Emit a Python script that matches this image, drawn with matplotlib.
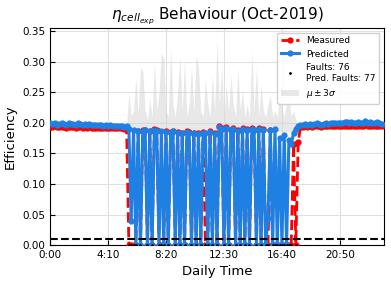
import numpy as np
import matplotlib
matplotlib.use('Agg')
import matplotlib.pyplot as plt

# time of day in minutes, one sample every 10 min
minutes = np.arange(0, 1440, 10)

night_am_pred = [0.199, 0.198, 0.200, 0.197, 0.198, 0.199, 0.198, 0.197, 0.199, 0.198,
                 0.198, 0.197, 0.199, 0.198, 0.197, 0.198, 0.197, 0.198, 0.197, 0.196,
                 0.197, 0.196, 0.197, 0.195, 0.196, 0.195, 0.196, 0.195, 0.194, 0.195,
                 0.194, 0.195, 0.193, 0.194]
night_am_meas = [0.193, 0.193, 0.194, 0.193, 0.193, 0.193, 0.193, 0.192, 0.193, 0.193,
                 0.193, 0.192, 0.193, 0.193, 0.192, 0.193, 0.192, 0.193, 0.192, 0.192,
                 0.192, 0.192, 0.192, 0.191, 0.192, 0.191, 0.192, 0.191, 0.191, 0.191,
                 0.191, 0.191, 0.190, 0.191]

day_pred = [0.190, 0.040, 0.188, 0.000, 0.186, 0.000, 0.187, 0.188, 0.000, 0.186,
            0.000, 0.189, 0.187, 0.000, 0.186, 0.000, 0.185, 0.000, 0.184, 0.186,
            0.000, 0.184, 0.000, 0.183, 0.000, 0.185, 0.184, 0.000, 0.183, 0.000,
            0.182, 0.000, 0.184, 0.183, 0.000, 0.185, 0.000, 0.182, 0.000, 0.193,
            0.190, 0.000, 0.192, 0.000, 0.188, 0.190, 0.000, 0.187, 0.000, 0.190,
            0.000, 0.189, 0.000, 0.190, 0.188, 0.000, 0.190, 0.000, 0.189, 0.000,
            0.045, 0.188, 0.000, 0.190, 0.000, 0.175, 0.000, 0.180, 0.000, 0.172,
            0.165, 0.183, 0.190, 0.195]
day_meas = [0.000, 0.000, 0.000, 0.000, 0.187, 0.000, 0.188, 0.189, 0.000, 0.187,
            0.000, 0.190, 0.188, 0.000, 0.000, 0.000, 0.186, 0.000, 0.185, 0.187,
            0.000, 0.185, 0.000, 0.184, 0.000, 0.186, 0.185, 0.000, 0.184, 0.000,
            0.183, 0.000, 0.185, 0.000, 0.000, 0.186, 0.000, 0.183, 0.000, 0.194,
            0.191, 0.000, 0.193, 0.000, 0.189, 0.191, 0.000, 0.188, 0.000, 0.191,
            0.000, 0.190, 0.000, 0.191, 0.189, 0.000, 0.191, 0.000, 0.190, 0.000,
            0.000, 0.189, 0.000, 0.000, 0.000, 0.000, 0.000, 0.000, 0.000, 0.000,
            0.000, 0.165, 0.000, 0.168]

night_pm_pred = [0.196, 0.197, 0.198, 0.197, 0.198, 0.197, 0.198, 0.199, 0.198, 0.197,
                 0.198, 0.199, 0.198, 0.199, 0.200, 0.199, 0.200, 0.199, 0.200, 0.201,
                 0.202, 0.200, 0.201, 0.199, 0.200, 0.201, 0.200, 0.199, 0.203, 0.200,
                 0.201, 0.199, 0.200, 0.202, 0.199, 0.198]
night_pm_meas = [0.193, 0.193, 0.194, 0.193, 0.194, 0.193, 0.194, 0.194, 0.194, 0.193,
                 0.194, 0.194, 0.194, 0.194, 0.195, 0.194, 0.195, 0.194, 0.195, 0.195,
                 0.195, 0.195, 0.195, 0.194, 0.195, 0.195, 0.195, 0.194, 0.196, 0.195,
                 0.195, 0.194, 0.195, 0.195, 0.194, 0.194]

# mu +/- 3 sigma band
band_upper = [0.201, 0.200, 0.201, 0.200, 0.200, 0.201, 0.200, 0.200, 0.201, 0.200,
              0.200, 0.200, 0.201, 0.200, 0.200, 0.200, 0.200, 0.200, 0.199, 0.199,
              0.199, 0.199, 0.199, 0.198, 0.198, 0.198, 0.198, 0.198, 0.197, 0.197,
              0.197, 0.197, 0.196, 0.197,
              0.250, 0.210, 0.220, 0.275, 0.215, 0.290, 0.285, 0.220, 0.205, 0.240,
              0.210, 0.300, 0.220, 0.250, 0.314, 0.306, 0.220, 0.210, 0.325, 0.230,
              0.210, 0.250, 0.309, 0.220, 0.303, 0.210, 0.230, 0.294, 0.220, 0.311,
              0.290, 0.220, 0.210, 0.273, 0.230, 0.210, 0.278, 0.220, 0.335, 0.230,
              0.294, 0.210, 0.262, 0.220, 0.278, 0.230, 0.210, 0.290, 0.220, 0.252,
              0.210, 0.230, 0.210, 0.317, 0.220, 0.290, 0.210, 0.262, 0.220, 0.210,
              0.230, 0.245, 0.210, 0.220, 0.210, 0.252, 0.220, 0.210, 0.230, 0.240,
              0.210, 0.220, 0.205, 0.200,
              0.199, 0.199, 0.200, 0.200, 0.200, 0.200, 0.201, 0.201, 0.201, 0.200,
              0.201, 0.201, 0.201, 0.202, 0.202, 0.202, 0.202, 0.202, 0.203, 0.203,
              0.204, 0.203, 0.203, 0.202, 0.203, 0.203, 0.203, 0.202, 0.205, 0.203,
              0.203, 0.202, 0.203, 0.204, 0.202, 0.201]
band_lower = [0.190] * 34 + [0.185] * 74 + [0.190] * 36

threshold = 0.01
tick_pos = [0, 250, 500, 750, 1000, 1250]
tick_labels = ['0:00', '4:10', '8:20', '12:30', '16:40', '20:50']
faults_label = 'Faults: 76\nPred. Faults: 77'

measured = np.array(night_am_meas + day_meas + night_pm_meas)
predicted = np.array(night_am_pred + day_pred + night_pm_pred)

fig = plt.figure(figsize=(3.91, 2.83), dpi=100)
ax = fig.add_axes([0.128, 0.134, 0.854, 0.767])

ax.fill_between(minutes, band_lower, band_upper, color='lightgrey', alpha=0.5,
                lw=0, label=r'$\mu\pm3\sigma$', zorder=1)
ax.plot(minutes, measured, '--o', color='#ff0000', lw=2, ms=3.5, label='Measured', zorder=3)
ax.plot(minutes, predicted, '-o', color='#1e80e3', lw=2.2, ms=3.5, label='Predicted', zorder=4)
faults = minutes[measured < threshold]
ax.plot(faults, np.zeros(len(faults)), '.', color='k', ms=2, label=faults_label, zorder=5)
ax.axhline(threshold, color='k', ls='--', lw=1.5, zorder=6)

ax.set_xlim(0, 1440)
ax.set_ylim(0, 0.355)
ax.set_xticks(tick_pos)
ax.set_xticklabels(tick_labels)
ax.set_yticks(np.arange(0, 0.351, 0.05))
ax.tick_params(direction='in', labelsize=7.5)
ax.grid(True, color='#e0e0e0', lw=0.8)
ax.set_axisbelow(True)

ax.set_xlabel('Daily Time', fontsize=9.5)
ax.set_ylabel('Efficiency', fontsize=9.5)
ax.set_title(r'$\eta_{cell_{exp}}$ Behaviour (Oct-2019)', fontsize=11)

handles, labels = ax.get_legend_handles_labels()
order = [1, 2, 3, 0]
ax.legend([handles[i] for i in order], [labels[i] for i in order],
          loc='upper right', fontsize=6.5, framealpha=0.9)

plt.savefig('out.png', dpi=100)
